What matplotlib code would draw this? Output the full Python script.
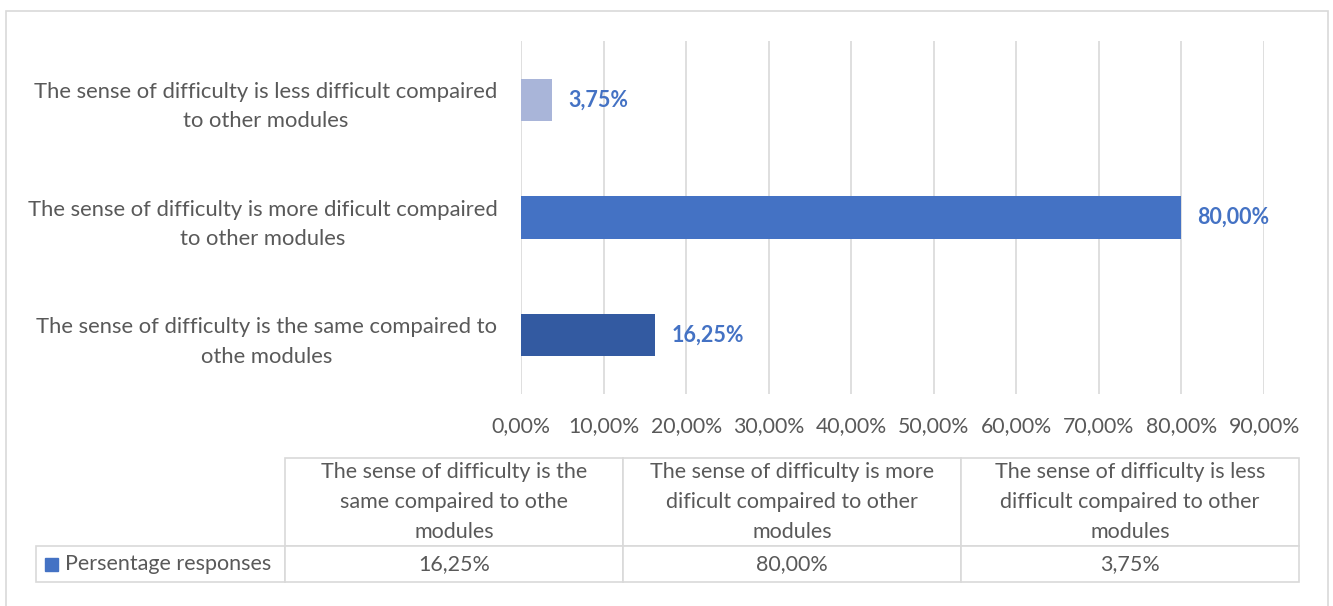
import matplotlib
matplotlib.use("Agg")
import matplotlib.pyplot as plt
from matplotlib.patches import Rectangle

plt.rcParams['font.family'] = ['Lato', 'DejaVu Sans']

# Datos
axis_labels = [
    "The sense of difficulty is the same compaired to\nothe modules",
    "The sense of difficulty is more dificult compaired\nto other modules",
    "The sense of difficulty is less difficult compaired\nto other modules",
]
table_headers = [
    "The sense of difficulty is the\nsame compaired to othe\nmodules",
    "The sense of difficulty is more\ndificult compaired to other\nmodules",
    "The sense of difficulty is less\ndifficult compaired to other\nmodules",
]
values = [16.25, 80.00, 3.75]
bar_colors = ['#335AA1', '#4472C4', '#A9B5D9']
series_name = "Persentage responses"
x_ticks = [0, 10, 20, 30, 40, 50, 60, 70, 80, 90]

text_gray = '#595959'
grid_gray = '#D9D9D9'
W, H = 1333, 606


def pct(v):
    return f"{v:.2f}%".replace('.', ',')


fig = plt.figure(figsize=(W / 100, H / 100), dpi=100)

# Borde exterior del gráfico
fig.patches.append(Rectangle((6 / W, -0.05), (1328 - 6) / W, 1.05 - 11 / H,
                             transform=fig.transFigure, fill=False,
                             edgecolor=grid_gray, linewidth=1.2))

# Gráfico de barras
ax = fig.add_axes([521 / W, 1 - 394 / H, (1264 - 521) / W, (394 - 41) / H])
ypos = list(range(len(values)))
bars = ax.barh(ypos, values, height=0.36, color=bar_colors, zorder=3)
ax.bar_label(bars, labels=[pct(v) for v in values], padding=11.5,
             color='#4472C4', fontweight='bold', fontsize=15.5)

ax.set_xlim(0, 90)
ax.set_ylim(-0.5, 2.5)
ax.set_xticks(x_ticks)
ax.set_xticklabels([pct(t) for t in x_ticks], color=text_gray, fontsize=15.3)
ax.set_yticks(ypos)
ax.set_yticklabels(axis_labels, color=text_gray, fontsize=15.8)
for lab in ax.get_yticklabels():
    lab.set_multialignment('center')
    lab.set_linespacing(1.6)
ax.tick_params(axis='both', length=0)
ax.tick_params(axis='y', pad=17)
ax.tick_params(axis='x', pad=16)
ax.grid(axis='x', color=grid_gray, linewidth=1.2, zorder=0)
for s in ax.spines.values():
    s.set_visible(False)

# Tabla de datos
tw, th = 1299 - 36, 582 - 458
tax = fig.add_axes([36 / W, 1 - 582 / H, tw / W, th / H])
tax.axis('off')
tbl = tax.table(cellText=[[pct(v) for v in values]],
                colLabels=table_headers, cellLoc='center',
                loc='lower right')
# celda con el nombre de la serie (ancho fijo, sin auto-ajuste)
tbl.add_cell(1, -1, width=249 / tw, height=36 / th, text=series_name,
             loc='left')
tbl.AXESPAD = 0
tbl.auto_set_font_size(False)
tbl.set_fontsize(15.5)
for (r, c), cell in tbl.get_celld().items():
    cell.set_edgecolor(grid_gray)
    cell.set_linewidth(1.2)
    cell.get_text().set_color(text_gray)
    cell.get_text().set_linespacing(1.6)
    cell.set_width((249 if c == -1 else 338) / tw)
    cell.set_height((88 if r == 0 else 36) / th)
    if c == -1:
        cell.PAD = 29 / 249

# Marcador de leyenda
tax.add_patch(Rectangle((9 / tw, 11 / th), 13 / tw, 13 / th,
                        transform=tax.transAxes, color='#4472C4', clip_on=False))

fig.savefig('out.png', dpi=100)
